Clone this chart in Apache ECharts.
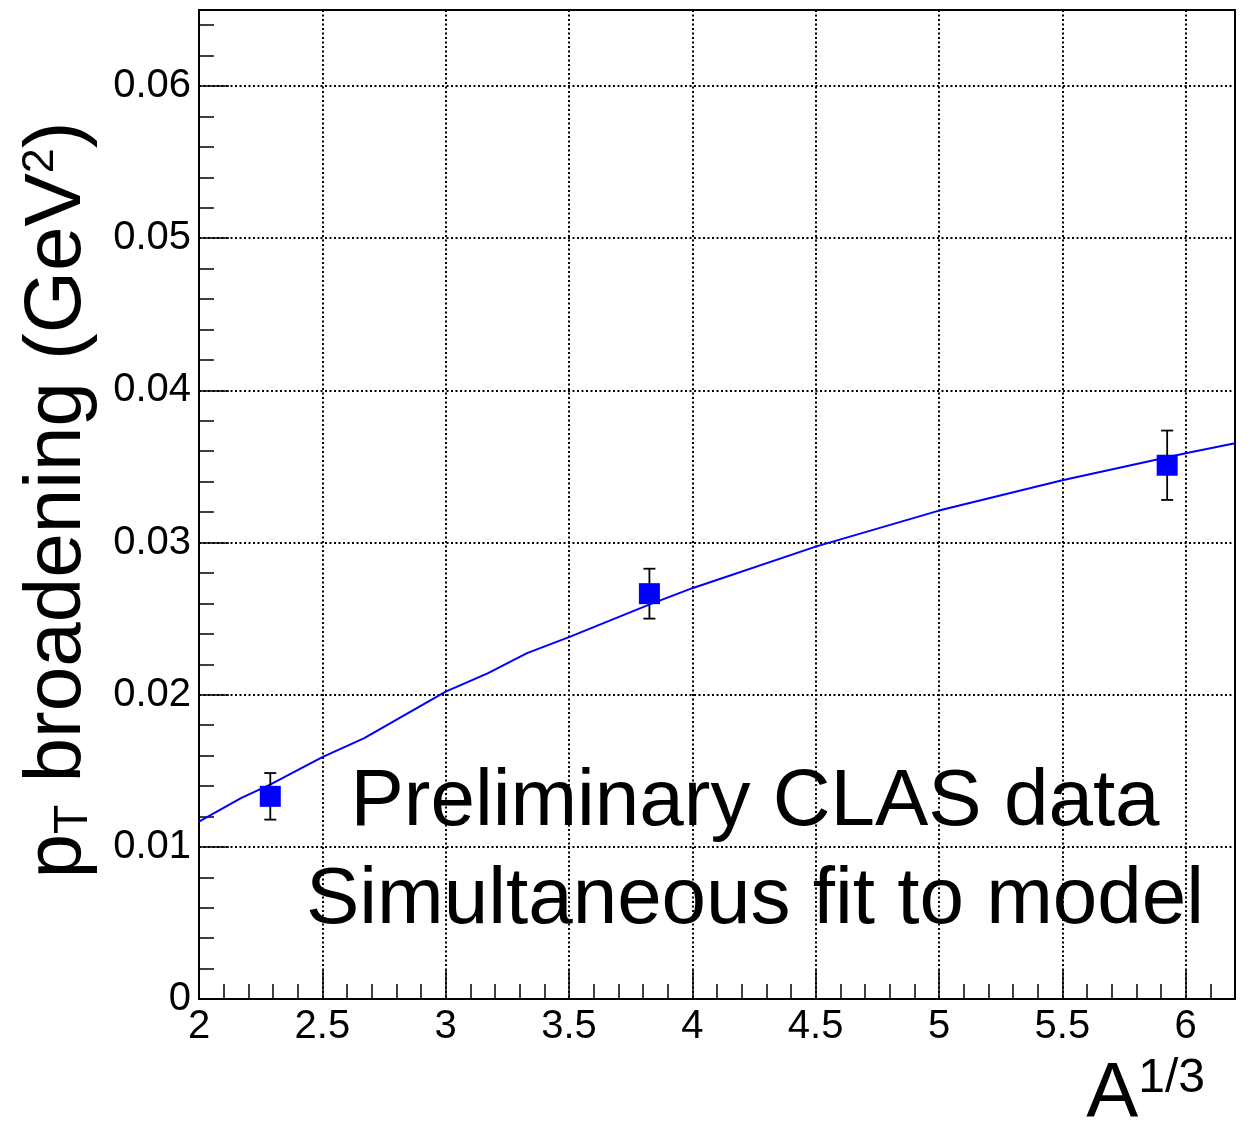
<!DOCTYPE html>
<html>
<head>
<meta charset="utf-8">
<script src="https://cdn.jsdelivr.net/npm/echarts@6/dist/echarts.min.js"></script>
<style>
  html, body { margin: 0; padding: 0; background: #fff; }
  #chart { width: 1250px; height: 1123px; }
</style>
</head>
<body>
<div id="chart"></div>
<script>
// Nuclear targets C, Fe, Pb: A^(1/3) and measured pT broadening (GeV^2)
const targetCubeRootA = [2.289, 3.826, 5.925];
const ptBroadening = [0.01332, 0.02664, 0.03508];
const ptBroadeningErr = [0.00153, 0.00164, 0.00228];

// Model curve from the simultaneous fit
const fitCubeRootA = [2.0, 2.17, 2.29, 2.5, 2.67, 3.0, 3.17, 3.33, 3.5, 3.67, 3.83, 4.0, 4.5, 5.0, 5.5, 6.0, 6.2];
const fitBroadening = [0.01165, 0.0132, 0.0141, 0.0159, 0.01715, 0.0202, 0.0214, 0.02273, 0.02378, 0.0249, 0.02595, 0.027, 0.02973, 0.0321, 0.0341, 0.03587, 0.03652];

// Axis ranges and tick spacing
const xRange = [2, 6.2];
const yRange = [0, 0.065];
const xMajor = 0.5, xMinor = 0.1;
const yMajor = 0.01, yMinor = 0.002;

const FONT = '"Liberation Sans", Helvetica, Arial, sans-serif';
const BLUE = '#0000ff';

const chart = echarts.init(document.getElementById('chart'), null, { renderer: 'canvas' });

const points = targetCubeRootA.map((x, i) => [x, ptBroadening[i], ptBroadeningErr[i]]);
const fitLine = fitCubeRootA.map((x, i) => [x, fitBroadening[i]]);

const gridLine = { show: true, lineStyle: { color: '#000', width: 2, type: [2, 2.5] } };

chart.setOption({
  animation: false,
  backgroundColor: '#fff',
  grid: { left: 199, top: 10, width: 1036, height: 989, show: true, borderColor: '#000', borderWidth: 2, backgroundColor: 'transparent' },
  xAxis: [
    {
      type: 'value', position: 'bottom', min: xRange[0], max: xRange[1], interval: xMajor,
      axisLine: { show: true, lineStyle: { color: '#000', width: 2 } },
      axisTick: { show: true, inside: true, length: 30, lineStyle: { color: '#000', width: 1.5 } },
      axisLabel: { show: true, color: '#000', fontSize: 40, fontFamily: FONT, margin: 8, showMaxLabel: false },
      splitLine: gridLine
    },
    {
      type: 'value', position: 'bottom', min: xRange[0], max: xRange[1], interval: xMinor,
      axisLine: { show: false },
      axisTick: { show: true, inside: true, length: 15, lineStyle: { color: '#000', width: 1.5 } },
      axisLabel: { show: false },
      splitLine: { show: false }
    }
  ],
  yAxis: [
    {
      type: 'value', position: 'left', min: yRange[0], max: yRange[1], interval: yMajor,
      axisLine: { show: true, lineStyle: { color: '#000', width: 2 } },
      axisTick: { show: true, inside: true, length: 30, lineStyle: { color: '#000', width: 1.5 } },
      axisLabel: { show: true, color: '#000', fontSize: 40, fontFamily: FONT, margin: 8, showMaxLabel: false },
      splitLine: gridLine
    },
    {
      type: 'value', position: 'left', min: yRange[0], max: yRange[1], interval: yMinor,
      axisLine: { show: false },
      axisTick: { show: true, inside: true, length: 15, lineStyle: { color: '#000', width: 1.5 } },
      axisLabel: { show: false },
      splitLine: { show: false }
    }
  ],
  series: [
    {
      name: 'fit', type: 'line', xAxisIndex: 0, yAxisIndex: 0,
      data: fitLine, showSymbol: false, smooth: false, z: 2,
      lineStyle: { color: BLUE, width: 2 }
    },
    {
      name: 'errors', type: 'custom', xAxisIndex: 0, yAxisIndex: 0, z: 3,
      data: points,
      renderItem: function (params, api) {
        const x = api.value(0), y = api.value(1), e = api.value(2);
        const hi = api.coord([x, y + e]);
        const lo = api.coord([x, y - e]);
        const cap = 6;
        const st = { stroke: '#000', lineWidth: 1.8 };
        return {
          type: 'group',
          children: [
            { type: 'line', shape: { x1: hi[0], y1: hi[1], x2: lo[0], y2: lo[1] }, style: st },
            { type: 'line', shape: { x1: hi[0] - cap, y1: hi[1], x2: hi[0] + cap, y2: hi[1] }, style: st },
            { type: 'line', shape: { x1: lo[0] - cap, y1: lo[1], x2: lo[0] + cap, y2: lo[1] }, style: st }
          ]
        };
      }
    },
    {
      name: 'data', type: 'scatter', xAxisIndex: 0, yAxisIndex: 0, z: 4,
      data: points.map(p => [p[0], p[1]]),
      symbol: 'rect', symbolSize: 21,
      itemStyle: { color: BLUE, opacity: 1 }
    }
  ],
  graphic: [
    {
      type: 'text', x: 58, y: 500, rotation: Math.PI / 2, z: 10,
      style: {
        text: '{m|p}{sub|T}{m| broadening (GeV}{sup|2}{m|)}',
        align: 'center', verticalAlign: 'middle', fill: '#000',
        rich: {
          m: { fontSize: 80, lineHeight: 80, fontFamily: FONT, fill: '#000' },
          sub: { fontSize: 48, lineHeight: 30, verticalAlign: 'bottom', fontFamily: FONT, fill: '#000' },
          sup: { fontSize: 45, lineHeight: 50, verticalAlign: 'top', fontFamily: FONT, fill: '#000' }
        }
      }
    },
    {
      type: 'text', x: 1205, y: 1095, z: 10,
      style: {
        text: '{m|A}{sup|1/3}',
        align: 'right', verticalAlign: 'middle', fill: '#000',
        rich: {
          m: { fontSize: 78, lineHeight: 80, fontFamily: FONT, fill: '#000' },
          sup: { fontSize: 48, lineHeight: 58, verticalAlign: 'top', fontFamily: FONT, fill: '#000' }
        }
      }
    },
    {
      type: 'text', x: 755, y: 803, z: 10,
      style: { text: 'Preliminary CLAS data', fontSize: 80, fontFamily: FONT, fill: '#000', align: 'center', verticalAlign: 'middle' }
    },
    {
      type: 'text', x: 755, y: 901, z: 10,
      style: { text: 'Simultaneous fit to model', fontSize: 80, fontFamily: FONT, fill: '#000', align: 'center', verticalAlign: 'middle' }
    }
  ]
});
</script>
</body>
</html>
